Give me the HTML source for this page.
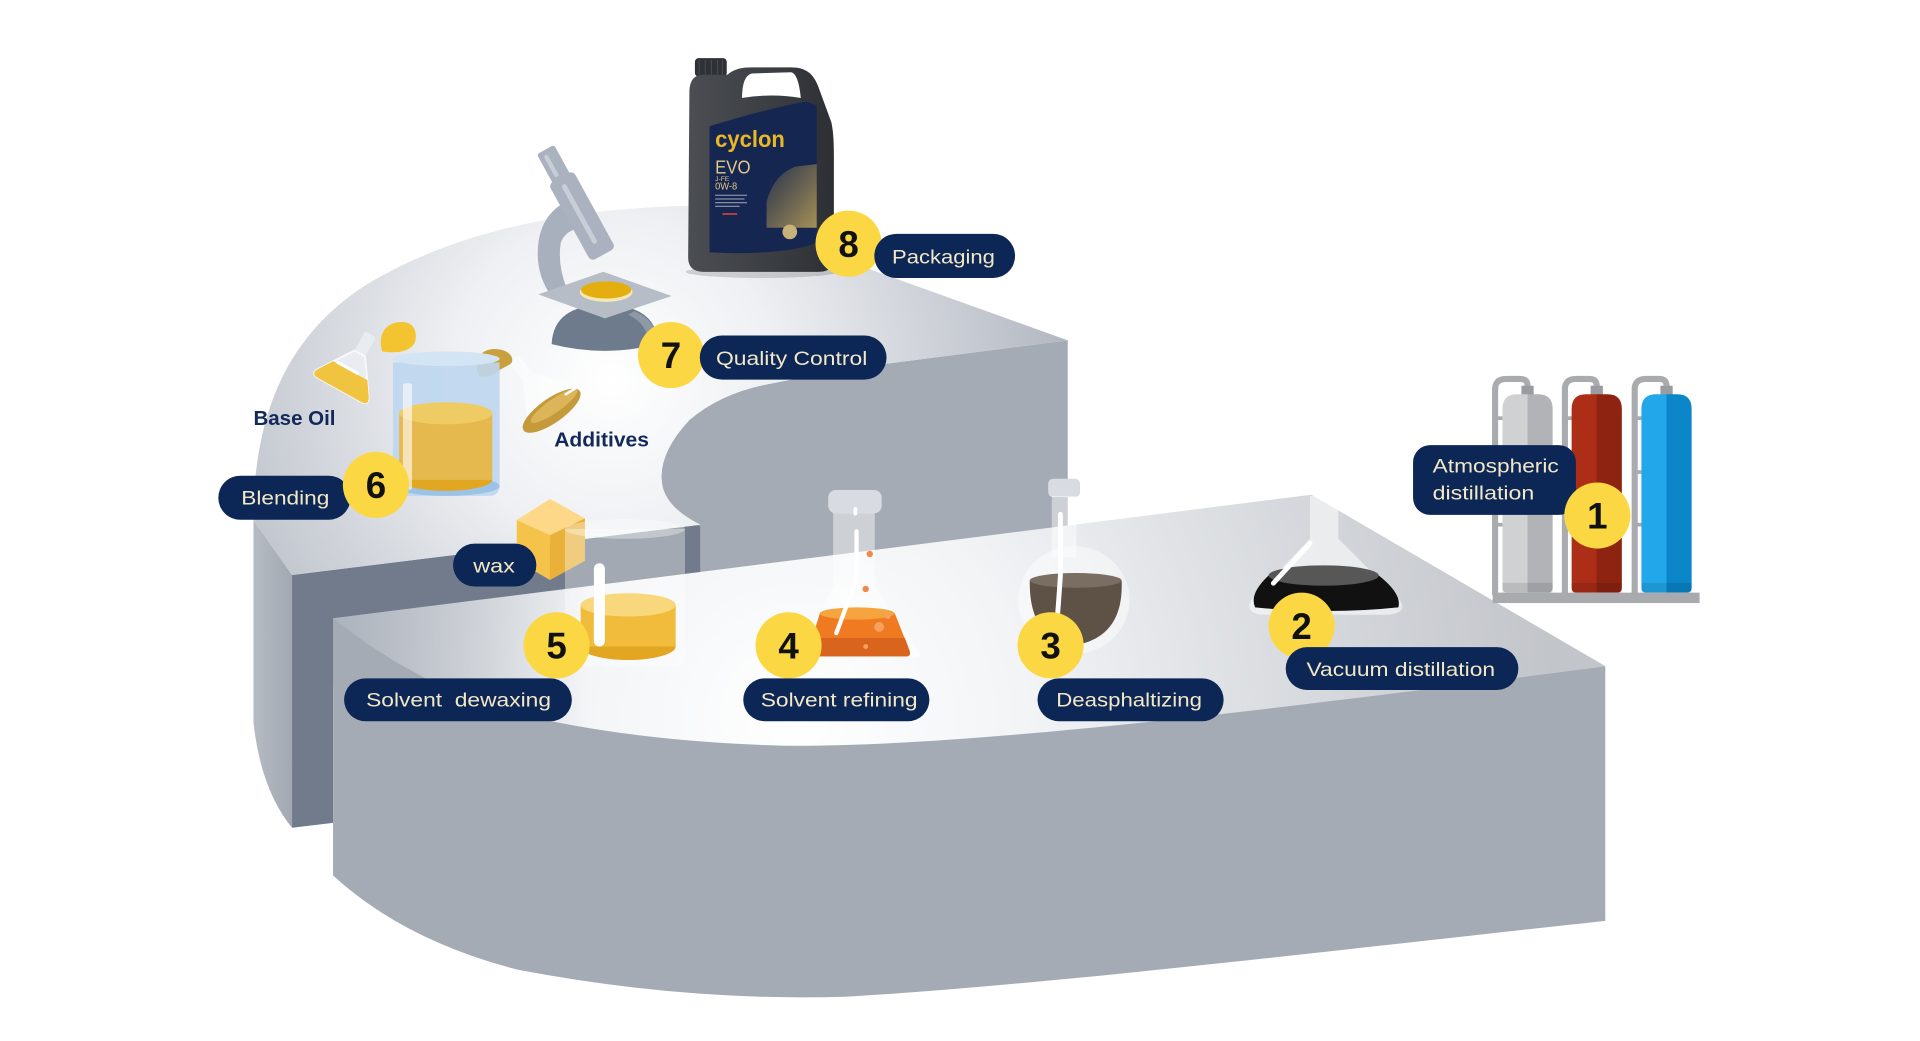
<!DOCTYPE html>
<html><head><meta charset="utf-8">
<style>
html,body{margin:0;padding:0;background:#fff;width:1920px;height:1041px;overflow:hidden}
svg{display:block}
.p{fill:#0c2656}
.t{font-family:"Liberation Sans",sans-serif;font-size:16px;fill:#f3e8c6}
.n{font-family:"Liberation Sans",sans-serif;font-size:30px;font-weight:bold;fill:#111;text-anchor:middle}
.c{fill:#fbd843}
.b{font-family:"Liberation Sans",sans-serif;font-size:16.5px;font-weight:bold;fill:#13295a}
</style></head><body>
<svg width="1920" height="1041" viewBox="0 0 1568 850.15" preserveAspectRatio="none" xmlns="http://www.w3.org/2000/svg">
<defs>
<radialGradient id="gT1" gradientUnits="userSpaceOnUse" cx="500" cy="310" r="380">
<stop offset="0" stop-color="#ffffff"/><stop offset="0.35" stop-color="#eef0f3"/><stop offset="0.75" stop-color="#c9cdd4"/><stop offset="1" stop-color="#b0b5be"/>
</radialGradient>
<radialGradient id="gT2" gradientUnits="userSpaceOnUse" cx="650" cy="585" r="620">
<stop offset="0" stop-color="#ffffff"/><stop offset="0.3" stop-color="#f2f4f6"/><stop offset="0.7" stop-color="#d5d8dc"/><stop offset="1" stop-color="#c2c5ca"/>
</radialGradient>
<linearGradient id="gL" gradientUnits="userSpaceOnUse" x1="272" y1="0" x2="480" y2="0">
<stop offset="0" stop-color="#aab0ba" stop-opacity="0.95"/><stop offset="1" stop-color="#aab0ba" stop-opacity="0"/>
</linearGradient>
<linearGradient id="gS" x1="0" y1="0" x2="1" y2="0"><stop offset="0" stop-color="#b6bbc3"/><stop offset="1" stop-color="#a2a8b2"/></linearGradient>
<linearGradient id="cg1" x1="0" y1="0" x2="1" y2="0"><stop offset="0.5" stop-color="#d0d1d3"/><stop offset="0.5" stop-color="#b2b3b6"/></linearGradient>
<linearGradient id="cg2" x1="0" y1="0" x2="1" y2="0"><stop offset="0.5" stop-color="#ad2e17"/><stop offset="0.5" stop-color="#8f2311"/></linearGradient>
<linearGradient id="cg3" x1="0" y1="0" x2="1" y2="0"><stop offset="0.5" stop-color="#22a7ea"/><stop offset="0.5" stop-color="#0a86c9"/></linearGradient>
<linearGradient id="jug" x1="0" y1="0" x2="1" y2="0"><stop offset="0" stop-color="#4b4e53"/><stop offset="0.6" stop-color="#3a3d42"/><stop offset="1" stop-color="#2c2f33"/></linearGradient>
<linearGradient id="gold" x1="0" y1="0" x2="1" y2="1"><stop offset="0" stop-color="#c9a64a" stop-opacity="0.1"/><stop offset="1" stop-color="#d8b45a" stop-opacity="0.75"/></linearGradient>
</defs>

<!-- UPPER TIER -->
<path d="M207,425 L238.5,469.6 L238.5,676 Q213,645 207,590 Z" fill="url(#gS)"/>
<path d="M238.5,469.6 L572,428.5 L572,520 L272,560 L272,672 L238.5,676 Z" fill="#717b8b"/>
<path d="M572,430 Q545,415 541,397 Q536,372 563,343 Q590,320 631,313 Q680,303 724,297 L872,278 L872,470 L572,470 Z" fill="#a5abb5"/>
<path d="M207,425 C207,330 240,270 300,232 C370,190 460,170 566,168 L872,278 L724,297 Q680,303 631,313 Q590,320 563,343 Q536,372 541,397 Q545,415 572,428.5 L238.5,469.6 Z" fill="url(#gT1)"/>

<!-- Microscope -->
<path d="M473.6,160.6 Q445,168 440,196 Q436,222 450.5,242.3 L463,236 Q455,216 458,198 Q461,190 470,187 Z" fill="#a7b0bc"/>
<path d="M450.5,281 Q452,249 494,249 Q536,249 537.6,281 Q494,292 450.5,281 Z" fill="#6d7b8c"/>
<path d="M518,254 Q537,262 537.6,281 L530,283 Q530,265 513,257 Z" fill="#8e99a7"/>
<g transform="translate(446.4,123.9) rotate(-28.8)">
<rect x="-8" y="-2" width="16" height="30" rx="2" fill="#a9b2be"/>
<rect x="-11.5" y="24" width="23" height="72" rx="4" fill="#a9b2be"/>
<rect x="-3" y="30" width="4" height="55" rx="2" fill="#c7ced8"/>
<rect x="-4" y="2" width="3.5" height="20" rx="1.7" fill="#c7ced8"/>
</g>
<polygon points="439.6,240.4 492.7,221.9 548.5,241.7 494,260" fill="#b6bdc6"/>
<ellipse cx="495" cy="238.5" rx="21.5" ry="8" fill="#f4e8b4"/>
<ellipse cx="495" cy="236.8" rx="20.5" ry="7" fill="#e3ae0e"/>

<!-- Jug -->
<ellipse cx="622" cy="222" rx="62" ry="5" fill="#000" opacity="0.15"/>
<rect x="567.5" y="47.5" width="26" height="15" rx="3" fill="#2e3135"/>
<path d="M571,49 V61 M576,49 V61 M581,49 V61 M586,49 V61 M590,49 V61" stroke="#45484d" stroke-width="1"/>
<path d="M563,76 C563,64 568,61 575,61 L594,61 C600,56 606,55 614,55 L646,55 C658,55 664,60 668,70 L679,100 C681,110 681,120 681,130 L681,211 C681,219 676,222 668,222 L575,222 C566,222 562,218 562,210 Z" fill="url(#jug)"/>
<path d="M606,80 Q606,62 614,60 L646,59 Q652,60 654,80 Q630,76 606,80 Z" fill="#fff"/>
<path d="M579.5,103 C600,97 630,88 658,83 L667,86 L667,198 C650,206 610,208 579.5,206 Z" fill="#152650"/>
<path d="M626,165 Q632,142 650,136 L667,134 L667,186 L626,186 Z" fill="url(#gold)"/>
<circle cx="645" cy="189.4" r="6" fill="#c9b27a"/>
<text x="584" y="120" font-family="Liberation Sans, sans-serif" font-size="18.5" font-weight="bold" fill="#eab826" textLength="57" lengthAdjust="spacingAndGlyphs">cyclon</text>
<text x="584" y="141.5" font-family="Liberation Sans, sans-serif" font-size="15" fill="#e3c98a" textLength="29" lengthAdjust="spacingAndGlyphs">EVO</text>
<text x="584" y="147.8" font-family="Liberation Sans, sans-serif" font-size="5.5" fill="#e3c98a">J-FE</text>
<text x="584" y="154.8" font-family="Liberation Sans, sans-serif" font-size="8.5" fill="#e3c98a" textLength="18" lengthAdjust="spacingAndGlyphs">0W-8</text>
<rect x="584" y="159" width="26" height="1" fill="#8a90a8"/>
<rect x="584" y="162" width="24" height="1" fill="#8a90a8"/>
<rect x="584" y="165" width="26" height="1" fill="#8a90a8"/>
<rect x="584" y="168" width="20" height="1" fill="#8a90a8"/>
<rect x="590" y="174" width="12" height="1.5" fill="#c04040"/>

<!-- Blending -->
<g transform="translate(440,318) rotate(-40)" opacity="0.5">
<rect x="-5" y="-32" width="10" height="18" fill="#fff"/>
<path d="M-5,-14 L-24,14 Q-27,20 -20,20 L20,20 Q27,20 24,14 L5,-14 Z" fill="#fff"/>
</g>
<g transform="translate(287,301) rotate(29)">
<rect x="-5" y="-32" width="10" height="19" rx="1.5" fill="#e9edf1"/>
<path d="M-5,-14 L-24,14 Q-27,20 -20,20 L20,20 Q27,20 24,14 L5,-14 Z" fill="#e9edf1" stroke="#f8f9fb" stroke-width="1.5"/>
<path d="M-16,2 L16,2 L24,14 Q27,20 20,20 L-20,20 Q-27,20 -24,14 Z" fill="#f0c43e"/>
<path d="M-12,1 L6,1" stroke="#fff" stroke-width="2.5" stroke-linecap="round"/>
</g>
<path d="M312,287 C308,272 316,263 328,263 C338,263 341,271 339,279 C336,287 324,289 312,287 Z" fill="#f3c330"/>
<path d="M391,306 C386,295 392,285 404,285 C413,285 420,290 418,296 C414,300 410,300 406,304 C400,308 394,309 391,306 Z" fill="#c9a03e"/>
<ellipse cx="450.5" cy="335.4" rx="28" ry="10" transform="rotate(-35 450.5 335.4)" fill="#c49a3a"/>
<ellipse cx="452.5" cy="331.5" rx="23" ry="5.5" transform="rotate(-35 452.5 331.5)" fill="#dcb55a"/>
<path d="M462,322 L470,317" stroke="#fff" stroke-width="2" stroke-linecap="round"/>
<path d="M321,296 L321,396 Q321,405 330,405 L399,405 Q408,405 408,396 L408,296 Z" fill="#bdd6ee" opacity="0.9"/>
<ellipse cx="364.5" cy="397" rx="43.5" ry="8" fill="#9cc3e6"/>
<ellipse cx="364.5" cy="293" rx="43.5" ry="6" fill="#d3e4f4"/>
<ellipse cx="364" cy="391.9" rx="38" ry="9" fill="#e1a722"/>
<rect x="326" y="337.5" width="76" height="54.4" fill="#e5b94d"/>
<ellipse cx="364" cy="337.5" rx="38" ry="9" fill="#efcb64"/>
<rect x="329" y="313" width="7.5" height="87" rx="2" fill="#fff" opacity="0.6"/>

<!-- LOWER TIER -->
<path d="M272,505 L1071,404 L1311,544 C1000,585 780,610 642,609 Q520,606 423,583 Q340,560 272,505 Z" fill="url(#gT2)"/>
<path d="M272,505 L1071,404 L1311,544 C1000,585 780,610 642,609 Q520,606 423,583 Q340,560 272,505 Z" fill="url(#gL)"/>
<path d="M272,505 Q340,560 423,583 Q520,606 642,609 C780,610 1000,585 1311,544 L1311,752 C1100,775 850,805 690,814 Q560,818 423,792 Q330,768 272,715 Z" fill="#a5abb5"/>

<!-- Gas cylinders -->
<g fill="none" stroke="#a9abae" stroke-width="5">
<path d="M1221,486 L1221,318 Q1221,309.5 1230,309.5 L1241.5,309.5 Q1247.5,309.5 1247.5,315 L1247.5,318"/>
<path d="M1278,486 L1278,318 Q1278,309.5 1287,309.5 L1298,309.5 Q1304,309.5 1304,315 L1304,318"/>
<path d="M1335,486 L1335,318 Q1335,309.5 1344,309.5 L1355,309.5 Q1361,309.5 1361,315 L1361,318"/>
</g>
<g fill="#a9abae">
<rect x="1221" y="340" width="8" height="3"/><rect x="1221" y="384" width="8" height="3"/><rect x="1221" y="427" width="8" height="3"/>
<rect x="1278" y="340" width="8" height="3"/><rect x="1278" y="384" width="8" height="3"/><rect x="1278" y="427" width="8" height="3"/>
<rect x="1335" y="340" width="8" height="3"/><rect x="1335" y="384" width="8" height="3"/><rect x="1335" y="427" width="8" height="3"/>
</g>
<rect x="1242.5" y="315" width="10" height="8" fill="#9a9ca0"/>
<rect x="1299" y="315" width="10" height="8" fill="#9a9ca0"/>
<rect x="1356" y="315" width="10" height="8" fill="#9a9ca0"/>
<path d="M1227,480 L1227,334 Q1227,322 1239,322 L1256,322 Q1268,322 1268,334 L1268,480 Q1268,484 1264,484 L1231,484 Q1227,484 1227,480 Z" fill="url(#cg1)"/>
<path d="M1283.5,480 L1283.5,334 Q1283.5,322 1295.5,322 L1312.5,322 Q1324.5,322 1324.5,334 L1324.5,480 Q1324.5,484 1320.5,484 L1287.5,484 Q1283.5,484 1283.5,480 Z" fill="url(#cg2)"/>
<path d="M1340.5,480 L1340.5,334 Q1340.5,322 1352.5,322 L1369.5,322 Q1381.5,322 1381.5,334 L1381.5,480 Q1381.5,484 1377.5,484 L1344.5,484 Q1340.5,484 1340.5,480 Z" fill="url(#cg3)"/>
<rect x="1227" y="476" width="41" height="8" fill="#000" opacity="0.1"/>
<rect x="1283.5" y="476" width="41" height="8" fill="#000" opacity="0.12"/>
<rect x="1340.5" y="476" width="41" height="8" fill="#000" opacity="0.1"/>
<rect x="1219" y="484" width="169" height="8.5" fill="#a8aaad"/>

<!-- Wax cube -->
<polygon points="449.2,407.5 477.7,423.3 449.2,437 422,424.7" fill="#fcd888"/>
<polygon points="422,424.7 449.2,437 449.2,473.7 422,458" fill="#f5c24a"/>
<polygon points="449.2,437 477.7,423.3 477.7,458 449.2,473.7" fill="#e9b13a"/>

<!-- Beaker 5 -->
<path d="M461.4,432 L461.4,536 Q461.4,544.5 470,544.5 L551,544.5 Q559.4,544.5 559.4,536 L559.4,432 Z" fill="#fff" opacity="0.35"/>
<ellipse cx="510.4" cy="432" rx="49" ry="8" fill="#fff" opacity="0.35"/>
<ellipse cx="513" cy="528" rx="38.8" ry="11" fill="#e2a623"/>
<rect x="474.2" y="494" width="77.6" height="34" fill="#f1bc3c"/>
<ellipse cx="513" cy="494" rx="38.8" ry="9.5" fill="#f9d77c"/>
<rect x="485" y="460" width="9" height="68" rx="4.5" fill="#fff"/>

<!-- Flask 4 -->
<rect x="676.4" y="400.2" width="43.6" height="19" rx="6" fill="#d8dce2"/>
<path d="M680.4,419 L680.4,479 L653,532 Q651,537 657,537 L748,537 Q754,537 751,532 L714.4,479 L714.4,419 Z" fill="#fff" opacity="0.45"/>
<path d="M669.5,501 L730.8,501 L743,532 Q744,536 740,536 L662,536 Q658,536 660,532 Z" fill="#f07a22"/>
<path d="M663,521 L739,521 L743,532 Q744,536 740,536 L662,536 Q658,536 660,532 Z" fill="#d8641d"/>
<ellipse cx="700" cy="501" rx="30.6" ry="5" fill="#f6a43e"/>
<circle cx="718" cy="512" r="4" fill="#f7a060"/>
<circle cx="725" cy="503" r="2.5" fill="#f7a060"/>
<circle cx="707" cy="528" r="2" fill="#f7a060"/>
<circle cx="710.3" cy="452.4" r="2.6" fill="#f08a4a"/>
<circle cx="707" cy="481" r="2.6" fill="#f08a4a"/>
<rect x="697" y="414" width="3" height="7" rx="1.5" fill="#fff"/>
<path d="M699.5,434 L699.5,473 L683,517" fill="none" stroke="#fff" stroke-width="3.5" stroke-linecap="round" stroke-linejoin="round"/>

<!-- Flask 3 -->
<rect x="856" y="391" width="26" height="15" rx="4" fill="#d8dce2"/>
<rect x="859" y="405" width="20" height="50" fill="#fff" opacity="0.45"/>
<ellipse cx="877" cy="490" rx="45.5" ry="44" fill="#fff" opacity="0.45"/>
<path d="M841,474 L916,474 Q918,520 878,527 Q840,522 841,474 Z" fill="#5e5145"/>
<ellipse cx="878.5" cy="474" rx="37.5" ry="6" fill="#7a6d61"/>
<path d="M866,420 L866,470 Q864,500 862,522" fill="none" stroke="#fff" stroke-width="4" stroke-linecap="round"/>

<!-- Flask 2 -->
<path d="M1069.8,405 L1069.8,440 L1022,490 Q1016,500 1030,502 L1135,502 Q1150,500 1143,490 L1093,440 L1093,405 Z" fill="#fff" opacity="0.55"/>
<path d="M1025,496 Q1020,485 1036,470 L1126,470 Q1145,485 1142,496 Q1085,502 1025,496 Z" fill="#111"/>
<ellipse cx="1081" cy="470" rx="45" ry="8.3" fill="#575757"/>
<path d="M1069.8,443.7 L1039.9,476.3" stroke="#fff" stroke-width="4" stroke-linecap="round"/>

<!-- LABELS -->
<circle class="c" cx="693" cy="199" r="27"/>
<text class="n" x="693" y="209.7">8</text>
<rect class="p" x="714" y="191" width="115" height="36" rx="18"/>
<text class="t" x="728.5" y="215" textLength="84" lengthAdjust="spacingAndGlyphs">Packaging</text>

<circle class="c" cx="548" cy="290" r="27"/>
<text class="n" x="548" y="300.7">7</text>
<rect class="p" x="571.5" y="274" width="152.5" height="36" rx="18"/>
<text class="t" x="584.7" y="298" textLength="123.6" lengthAdjust="spacingAndGlyphs">Quality Control</text>

<rect class="p" x="178.3" y="388.5" width="108" height="36" rx="18"/>
<text class="t" x="197" y="412" textLength="72" lengthAdjust="spacingAndGlyphs">Blending</text>
<circle class="c" cx="307" cy="396" r="27"/>
<text class="n" x="307" y="406.7">6</text>

<rect class="p" x="370" y="444" width="68" height="35" rx="17.5"/>
<text class="t" x="386.5" y="467.5" textLength="34" lengthAdjust="spacingAndGlyphs">wax</text>

<circle class="c" cx="454.5" cy="527" r="27"/>
<text class="n" x="454.5" y="537.7">5</text>
<rect class="p" x="281" y="554" width="186" height="35" rx="17.5"/>
<text class="t" x="299" y="577" textLength="151" lengthAdjust="spacingAndGlyphs" style="white-space:pre">Solvent  dewaxing</text>

<circle class="c" cx="644" cy="527" r="27"/>
<text class="n" x="644" y="537.7">4</text>
<rect class="p" x="607" y="554" width="152" height="35" rx="17.5"/>
<text class="t" x="621.3" y="577" textLength="128" lengthAdjust="spacingAndGlyphs">Solvent refining</text>

<circle class="c" cx="858" cy="527" r="27"/>
<text class="n" x="858" y="537.7">3</text>
<rect class="p" x="847.3" y="554" width="152" height="35" rx="17.5"/>
<text class="t" x="862.6" y="577" textLength="119" lengthAdjust="spacingAndGlyphs">Deasphaltizing</text>

<circle class="c" cx="1063" cy="511" r="27"/>
<text class="n" x="1063" y="521.7">2</text>
<rect class="p" x="1050" y="528.5" width="190" height="35" rx="17.5"/>
<text class="t" x="1067" y="552" textLength="154" lengthAdjust="spacingAndGlyphs">Vacuum distillation</text>

<rect class="p" x="1154" y="363.5" width="133" height="57" rx="14"/>
<text class="t" x="1170" y="386" textLength="103" lengthAdjust="spacingAndGlyphs">Atmospheric</text>
<text class="t" x="1170" y="408" textLength="83" lengthAdjust="spacingAndGlyphs">distillation</text>
<circle class="c" cx="1304.5" cy="421" r="27"/>
<text class="n" x="1304.5" y="431.7">1</text>

<text class="b" x="207" y="347" textLength="67" lengthAdjust="spacingAndGlyphs">Base Oil</text>
<text class="b" x="452.6" y="364.5" textLength="77.4" lengthAdjust="spacingAndGlyphs">Additives</text>
</svg>
</body></html>
